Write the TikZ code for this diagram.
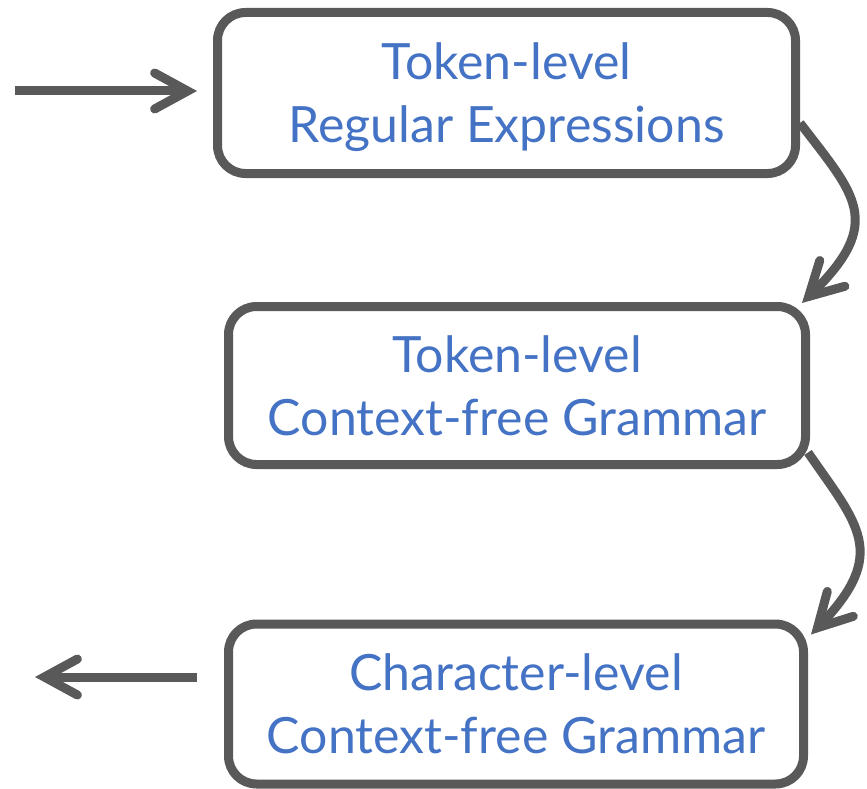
\documentclass[tikz,border=0pt]{standalone}
\usepackage{fontspec}
\setmainfont{Lato}
\usetikzlibrary{arrows.meta}
\definecolor{edgegray}{HTML}{595959}
\definecolor{labelblue}{HTML}{4472C4}
\begin{document}
\begin{tikzpicture}[x=1pt, y=-1pt,
  stage/.style={draw=edgegray, line width=9pt, rounded corners=28pt, fill=white,
    align=center, text=labelblue, font=\fontsize{50}{63}\selectfont,
    text depth=0pt, inner sep=0pt},
  flow/.style={draw=edgegray, line width=9pt,
    -{Straight Barb[length=33pt, width=36pt, line cap=round, line join=miter]}}]
\useasboundingbox (0,0) rectangle (867,789);

% the three grammar stages
\node[stage, minimum width=578pt, minimum height=161pt] (tokre) at (506.5,93)
  {Token-level\\Regular Expressions};
\node[stage, minimum width=577pt, minimum height=158pt] (tokcfg) at (517,385.5)
  {Token-level\\Context-free Grammar};
\node[stage, minimum width=575pt, minimum height=160pt] (charcfg) at (516,704)
  {Character-level\\Context-free Grammar};

% free ends of the input and output arrows
\coordinate (input) at (15,91);
\coordinate (output) at (35,677);

\draw[flow] (input) -- ([shift={(-16,-2)}]tokre.west);
\draw[flow] ([shift={(0,30)}]tokre.east)
  .. controls (855,195) and (885,222) .. ([shift={(-8,1)}]tokcfg.north east);
\draw[flow] ([shift={(-2,67)}]tokcfg.east)
  .. controls (858,525) and (889,553) .. ([shift={(3,15)}]charcfg.north east);
\draw[flow] ([shift={(-27,-27)}]charcfg.west) -- (output);
\end{tikzpicture}
\end{document}
